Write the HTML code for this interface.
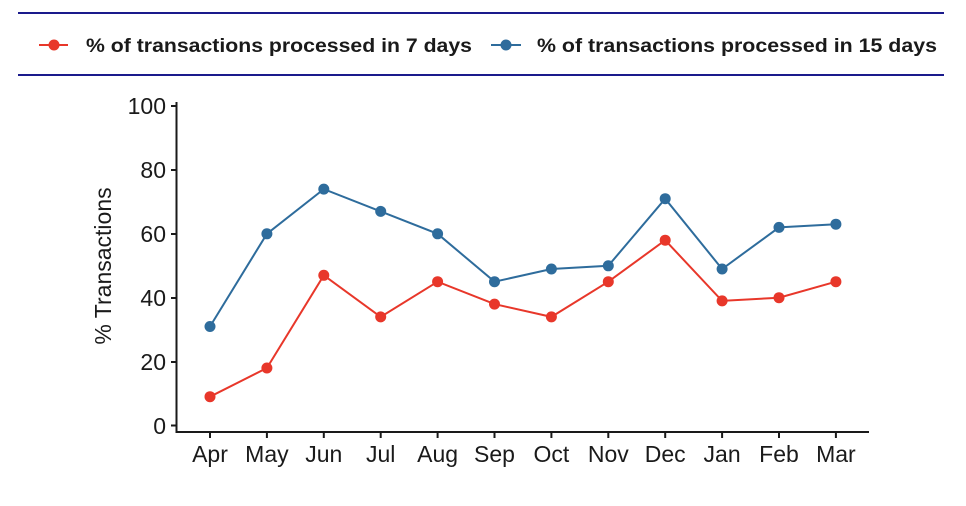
<!DOCTYPE html>
<html><head><meta charset="utf-8"><style>
html,body{margin:0;padding:0;background:#fff;}
svg{display:block;font-family:"Liberation Sans",Arial,sans-serif;}
</style></head><body>
<svg width="966" height="506" viewBox="0 0 966 506">
<line x1="18" y1="13" x2="944" y2="13" stroke="#1a1a8c" stroke-width="2"/>
<line x1="18" y1="75" x2="944" y2="75" stroke="#1a1a8c" stroke-width="2"/>
<line x1="39" y1="45" x2="68" y2="45" stroke="#e8372a" stroke-width="2"/>
<circle cx="54" cy="45" r="5.5" fill="#e8372a"/>
<text x="86" y="52" font-size="19" font-weight="bold" fill="#1a1a1a" textLength="386" lengthAdjust="spacingAndGlyphs">% of transactions processed in 7 days</text>
<line x1="491" y1="45" x2="521" y2="45" stroke="#2e6c9c" stroke-width="2"/>
<circle cx="506" cy="45" r="5.5" fill="#2e6c9c"/>
<text x="537" y="52" font-size="19" font-weight="bold" fill="#1a1a1a" textLength="400" lengthAdjust="spacingAndGlyphs">% of transactions processed in 15 days</text>

<g stroke="#1a1a1a" stroke-width="2">
<line x1="176.5" y1="102" x2="176.5" y2="433"/>
<line x1="175.5" y1="432" x2="869" y2="432"/>
<line x1="171" y1="106" x2="176" y2="106"/>
<line x1="171" y1="170" x2="176" y2="170"/>
<line x1="171" y1="234" x2="176" y2="234"/>
<line x1="171" y1="298" x2="176" y2="298"/>
<line x1="171" y1="362" x2="176" y2="362"/>
<line x1="171" y1="425.5" x2="176" y2="425.5"/>
</g>
<g stroke="#1a1a1a" stroke-width="2">
<line x1="210" y1="432" x2="210" y2="438"/><line x1="266.9" y1="432" x2="266.9" y2="438"/><line x1="323.8" y1="432" x2="323.8" y2="438"/><line x1="380.7" y1="432" x2="380.7" y2="438"/><line x1="437.6" y1="432" x2="437.6" y2="438"/><line x1="494.5" y1="432" x2="494.5" y2="438"/><line x1="551.4" y1="432" x2="551.4" y2="438"/><line x1="608.3" y1="432" x2="608.3" y2="438"/><line x1="665.2" y1="432" x2="665.2" y2="438"/><line x1="722.1" y1="432" x2="722.1" y2="438"/><line x1="779" y1="432" x2="779" y2="438"/><line x1="835.9" y1="432" x2="835.9" y2="438"/>
</g>
<g font-size="23" fill="#1a1a1a" text-anchor="end">
<text x="166" y="114">100</text><text x="166" y="178">80</text><text x="166" y="242">60</text><text x="166" y="306">40</text><text x="166" y="370">20</text><text x="166" y="434">0</text>
</g>
<g font-size="23" fill="#1a1a1a" text-anchor="middle">
<text x="210" y="462">Apr</text><text x="266.9" y="462">May</text><text x="323.8" y="462">Jun</text><text x="380.7" y="462">Jul</text><text x="437.6" y="462">Aug</text><text x="494.5" y="462">Sep</text><text x="551.4" y="462">Oct</text><text x="608.3" y="462">Nov</text><text x="665.2" y="462">Dec</text><text x="722.1" y="462">Jan</text><text x="779" y="462">Feb</text><text x="835.9" y="462">Mar</text>
</g>
<text transform="translate(111,266) rotate(-90)" font-size="23" fill="#1a1a1a" text-anchor="middle">% Transactions</text>

<polyline fill="none" stroke="#2e6c9c" stroke-width="2" points="210,326.5 266.9,233.8 323.8,189.1 380.7,211.4 437.6,233.8 494.5,281.7 551.4,269 608.3,265.8 665.2,198.7 722.1,269 779,227.4 835.9,224.2"/>
<g fill="#2e6c9c">
<circle cx="210" cy="326.5" r="5.5"/><circle cx="266.9" cy="233.8" r="5.5"/><circle cx="323.8" cy="189.1" r="5.5"/><circle cx="380.7" cy="211.4" r="5.5"/><circle cx="437.6" cy="233.8" r="5.5"/><circle cx="494.5" cy="281.7" r="5.5"/><circle cx="551.4" cy="269" r="5.5"/><circle cx="608.3" cy="265.8" r="5.5"/><circle cx="665.2" cy="198.7" r="5.5"/><circle cx="722.1" cy="269" r="5.5"/><circle cx="779" cy="227.4" r="5.5"/><circle cx="835.9" cy="224.2" r="5.5"/>
</g>
<polyline fill="none" stroke="#e8372a" stroke-width="2" points="210,396.7 266.9,368 323.8,275.3 380.7,316.9 437.6,281.7 494.5,304.1 551.4,316.9 608.3,281.7 665.2,240.2 722.1,300.9 779,297.7 835.9,281.7"/>
<g fill="#e8372a">
<circle cx="210" cy="396.7" r="5.5"/><circle cx="266.9" cy="368" r="5.5"/><circle cx="323.8" cy="275.3" r="5.5"/><circle cx="380.7" cy="316.9" r="5.5"/><circle cx="437.6" cy="281.7" r="5.5"/><circle cx="494.5" cy="304.1" r="5.5"/><circle cx="551.4" cy="316.9" r="5.5"/><circle cx="608.3" cy="281.7" r="5.5"/><circle cx="665.2" cy="240.2" r="5.5"/><circle cx="722.1" cy="300.9" r="5.5"/><circle cx="779" cy="297.7" r="5.5"/><circle cx="835.9" cy="281.7" r="5.5"/>
</g>
</svg>
</body></html>
